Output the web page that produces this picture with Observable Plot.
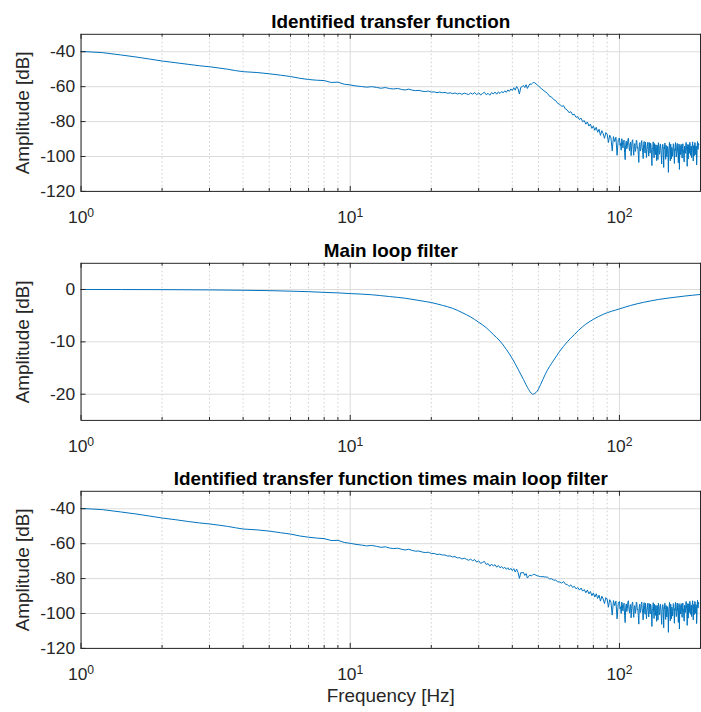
<!DOCTYPE html>
<html><head><meta charset="utf-8">
<script src="https://cdn.jsdelivr.net/npm/d3@7"></script>
<script src="https://cdn.jsdelivr.net/npm/@observablehq/plot@0.6"></script>
<style>
body{margin:0;background:#fff;}
#wrap{width:701px;height:712px;overflow:hidden;background:#fff;}
#wrap svg{display:block;}
</style></head><body><div id="wrap"></div>
<script>
// ---- Frequency grid [Hz] ----
const freqLow = [1,1.2,1.4,1.6,1.8,2,2.25,2.5,2.75,3,3.25,3.5,3.75,4,4.5,5,5.5,6,6.5,7,7.5,8,8.5,9,9.5];
const freqMid = [10,10.5,11,11.5,12,12.5,13,13.5,14,14.5,15,15.5,16,16.5,17,17.5,18,18.5,19,19.5,20,20.5,21,21.5,22,22.5,23,23.5,24,24.5,25,25.5,26,26.5,27,27.5,28,28.5,29,29.5,30,30.5,31,31.5,32,32.5,33,33.5,34,34.5,35,35.5,36,36.5,37,37.5,38,38.5,39,39.5,40,40.5,41,41.5,42,42.5,43,43.5,44,44.5,45,45.5,46,46.5,47,47.5,48,48.5,49,49.5];
const freqHigh = [50,51,52,53,54,55,56,57,58,59,60,61,62,63,64,65,66,67,68,69,70,71,72,73,74,75,76,77,78,79,80,81,82,83,84,85,86,87,88,89,90,91,92,93,94,95,96,97,98,99,100];
const freqTop = [100.5,101,101.5,102,102.5,103,103.5,104,104.5,105,105.5,106,106.5,107,107.5,108,108.5,109,109.5,110,110.5,111,111.5,112,112.5,113,113.5,114,114.5,115,115.5,116,116.5,117,117.5,118,118.5,119,119.5,120,120.5,121,121.5,122,122.5,123,123.5,124,124.5,125,125.5,126,126.5,127,127.5,128,128.5,129,129.5,130,130.5,131,131.5,132,132.5,133,133.5,134,134.5,135,135.5,136,136.5,137,137.5,138,138.5,139,139.5,140,140.5,141,141.5,142,142.5,143,143.5,144,144.5,145,145.5,146,146.5,147,147.5,148,148.5,149,149.5,150,150.5,151,151.5,152,152.5,153,153.5,154,154.5,155,155.5,156,156.5,157,157.5,158,158.5,159,159.5,160,160.5,161,161.5,162,162.5,163,163.5,164,164.5,165,165.5,166,166.5,167,167.5,168,168.5,169,169.5,170,170.5,171,171.5,172,172.5,173,173.5,174,174.5,175,175.5,176,176.5,177,177.5,178,178.5,179,179.5,180,180.5,181,181.5,182,182.5,183,183.5,184,184.5,185,185.5,186,186.5,187,187.5,188,188.5,189,189.5,190,190.5,191,191.5,192,192.5,193,193.5,194,194.5,195,195.5,196,196.5,197];

// ---- Identified transfer function [dB] ----
const tfLow = [-39.8,-40.5,-41.8,-43.0,-44.2,-45.3,-46.3,-47.2,-48.0,-48.6,-49.3,-50.0,-50.8,-51.4,-51.9,-52.6,-53.4,-54.2,-55.2,-55.9,-56.3,-56.5,-57.6,-57.4,-58.6];
const tfMid = [-59.0,-59.6,-59.9,-60.3,-60.0,-60.4,-60.9,-60.5,-61.1,-61.3,-61.0,-61.6,-61.9,-61.4,-62.0,-62.3,-62.1,-62.6,-62.8,-62.5,-63.1,-63.0,-63.4,-63.1,-63.5,-63.3,-63.8,-63.5,-64.0,-63.6,-64.2,-63.8,-64.4,-63.7,-64.1,-64.5,-63.6,-64.3,-63.4,-64.6,-63.5,-64.8,-63.9,-63.2,-64.6,-63.8,-64.9,-63.4,-64.2,-63.1,-64.3,-63.0,-63.9,-62.8,-63.5,-62.4,-63.2,-61.9,-62.7,-61.3,-62.2,-60.6,-62.0,-59.9,-61.2,-64.2,-60.4,-60.0,-59.3,-60.5,-58.9,-61.0,-59.6,-58.4,-58.7,-58.0,-57.6,-57.8,-58.4,-59.0];
const tfHigh = [-59.6,-60.8,-61.9,-62.9,-63.8,-65.5,-66.0,-67.4,-68.0,-69.6,
-70.1,-71.3,-70.9,-72.8,-73.4,-74.9,-74.3,-76.2,-75.8,-77.6,
-77.1,-78.9,-78.0,-80.1,-79.4,-81.5,-80.2,-82.6,-81.4,-83.9,
-82.5,-85.0,-83.3,-86.1,-84.4,-87.9,-85.2,-86.9,-89.6,-86.3,
-87.2,-92.0,-87.8,-89.4,-96.8,-88.6,-91.5,-89.0,-99.3,-90.2,
-89.4];
const tfTop = [-93.6,-92.5,-96.4,-89.8,-91.3,-95.1,-92.0,-90.6,-97.8,-101.8,
-93.0,-91.2,-95.6,-93.9,-90.2,-89.5,-94.4,-96.7,-92.9,-91.8,
-99.5,-94.2,-91.1,-90.4,-96.0,-99.3,-93.7,-92.6,-97.1,-95.8,
-90.7,-91.0,-95.3,-94.7,-98.6,-103.4,-93.2,-92.1,-96.9,-96.0,
-92.3,-90.9,-94.8,-97.5,-101.2,-93.2,-91.4,-95.4,-98.0,-91.7,
-94.6,-100.6,-96.2,-94.3,-91.8,-96.8,-99.7,-92.0,-95.0,-98.1,
-92.4,-93.5,-97.6,-105.2,-95.9,-94.8,-91.6,-97.3,-100.8,-92.6,
-95.7,-99.0,-93.3,-95.1,-102.4,-93.4,-96.3,-101.7,-92.1,-94.0,
-98.8,-97.9,-93.9,-92.8,-96.5,-99.6,-104.3,-96.1,-93.2,-93.0,
-97.4,-106.3,-94.7,-95.5,-92.3,-98.4,-101.6,-93.6,-96.8,-100.2,
-94.2,-96.0,-99.1,-109.1,-95.3,-94.4,-91.9,-98.7,-102.5,-92.9,
-96.1,-101.3,-94.8,-95.8,-99.9,-97.2,-92.7,-93.1,-97.8,-104.0,
-95.6,-96.6,-92.0,-94.0,-100.3,-99.8,-94.1,-92.5,-97.2,-98.0,
-103.6,-95.0,-92.8,-107.4,-96.3,-93.8,-98.9,-97.6,-93.0,-94.3,
-99.2,-100.9,-95.4,-92.7,-96.6,-96.4,-101.8,-103.1,-94.0,-94.6,
-97.9,-98.2,-92.6,-91.9,-96.0,-97.0,-105.6,-95.2,-93.1,-101.5,
-96.7,-93.3,-98.3,-96.8,-91.8,-92.4,-97.5,-99.4,-94.6,-94.1,
-100.7,-97.7,-93.5,-91.6,-95.2,-102.6,-96.4,-93.7,-99.6,-96.2,
-92.0,-92.2,-97.3,-98.9,-94.0,-94.5,-104.8,-100.4,-93.4,-91.4,
-95.7,-95.9,-92.5,-93.0];

// ---- Main loop filter (notch) [dB] ----
const notchFreq = [1,2,3,4,5,6,7,8,9,10,12,14,16,18,20,22,24,26,28,30,32,34,36,38,40,42,44,45,46,47,47.6,48.5,49.5,51,53,55,57,60,64,68,73,80,87,100,110,123,140,154,175,200];
const notchDb = [0,-0.03,-0.08,-0.15,-0.22,-0.32,-0.42,-0.55,-0.65,-0.78,-1.0,-1.35,-1.67,-2.1,-2.5,-3.03,-3.6,-4.4,-5.25,-6.25,-7.3,-8.6,-9.85,-11.45,-13.2,-15.2,-17.2,-18.2,-19.1,-19.8,-20.0,-19.85,-19.4,-18.1,-16.2,-14.7,-13.5,-11.8,-10.0,-8.6,-7.1,-5.7,-4.75,-3.7,-3.05,-2.45,-1.9,-1.6,-1.25,-0.95];

// ---- Transfer function times main loop filter [dB] ----
const prodLow = [-39.8,-40.5,-41.8,-43.0,-44.2,-45.3,-46.3,-47.3,-48.1,-48.7,-49.4,-50.1,-50.9,-51.6,-52.1,-52.8,-53.7,-54.5,-55.6,-56.3,-56.8,-57.1,-58.2,-58.1,-59.3];
const prodMid = [-59.8,-60.4,-60.8,-61.3,-61.0,-61.5,-62.1,-61.8,-62.5,-62.8,-62.6,-63.2,-63.6,-63.2,-63.9,-64.3,-64.2,-64.8,-65.1,-64.9,-65.6,-65.6,-66.2,-66.0,-66.5,-66.5,-67.1,-67.0,-67.6,-67.4,-68.2,-68.0,-68.8,-68.3,-68.9,-69.5,-68.9,-69.8,-69.1,-70.6,-69.8,-71.3,-70.7,-70.2,-71.9,-71.4,-72.9,-71.7,-72.8,-72.0,-73.5,-72.5,-73.8,-73.1,-74.2,-73.5,-74.7,-73.8,-75.1,-74.1,-75.4,-74.3,-76.2,-74.6,-76.4,-79.9,-76.6,-76.7,-76.5,-78.2,-77.1,-79.7,-78.7,-77.9,-78.5,-78.0,-77.6,-77.7,-78.1,-78.4];
const prodHigh = [-78.6,-78.9,-78.9,-79.1,-79.2,-80.2,-80.1,-80.9,-80.9,-81.9,
-81.9,-82.6,-81.7,-83.2,-83.4,-84.5,-83.6,-85.1,-84.4,-85.9,
-85.1,-86.6,-85.4,-87.2,-86.3,-88.1,-86.6,-88.8,-87.4,-89.8,
-88.2,-90.6,-88.7,-91.4,-89.5,-92.9,-90.1,-91.7,-94.3,-90.9,
-91.7,-96.4,-92.1,-93.6,-100.9,-92.6,-95.5,-92.9,-103.1,-94.0,
-93.1];
const prodTop = [-97.3,-96.2,-100.0,-93.4,-94.9,-98.6,-95.5,-94.1,-101.2,-105.2,
-96.4,-94.5,-98.9,-97.2,-93.4,-92.7,-97.6,-99.8,-96.0,-94.9,
-102.5,-97.2,-94.1,-93.4,-98.9,-102.2,-96.6,-95.5,-99.9,-98.6,
-93.5,-93.8,-98.0,-97.4,-101.3,-106.1,-95.8,-94.7,-99.5,-98.6,
-94.8,-93.4,-97.3,-100.0,-103.7,-95.7,-93.8,-97.8,-100.4,-94.1,
-97.0,-103.0,-98.6,-96.6,-94.1,-99.1,-102.0,-94.3,-97.3,-100.3,
-94.6,-95.7,-99.8,-107.4,-98.1,-97.0,-93.8,-99.4,-102.9,-94.7,
-97.8,-101.1,-95.4,-97.2,-104.5,-95.4,-98.3,-103.7,-94.1,-96.0,
-100.8,-99.9,-95.9,-94.7,-98.4,-101.5,-106.2,-98.0,-95.1,-94.9,
-99.3,-108.2,-96.6,-97.3,-94.1,-100.2,-103.4,-95.4,-98.6,-102.0,
-96.0,-97.8,-100.8,-110.8,-97.0,-96.1,-93.6,-100.4,-104.2,-94.6,
-97.8,-103.0,-96.4,-97.4,-101.5,-98.8,-94.3,-94.7,-99.4,-105.6,
-97.2,-98.2,-93.6,-95.6,-101.8,-101.3,-95.6,-94.0,-98.7,-99.5,
-105.1,-96.5,-94.3,-108.9,-97.8,-95.3,-100.3,-98.9,-94.3,-95.6,
-100.5,-102.2,-96.7,-94.0,-97.9,-97.7,-103.1,-104.4,-95.3,-95.9,
-99.2,-99.4,-93.8,-93.1,-97.2,-98.2,-106.8,-96.4,-94.3,-102.7,
-97.9,-94.5,-99.5,-98.0,-93.0,-93.6,-98.7,-100.5,-95.7,-95.2,
-101.8,-98.8,-94.6,-92.7,-96.3,-103.7,-97.5,-94.8,-100.7,-97.3,
-93.1,-93.2,-98.3,-99.9,-95.0,-95.5,-105.8,-101.4,-94.4,-92.4,
-96.7,-96.9,-93.5,-94.0];

// ---- Ticks & labels ----
const xTicks = [1, 10, 100];
const xTickExp = ["0", "1", "2"];
const xMinor = [2,3,4,5,6,7,8,9,20,30,40,50,60,70,80,90,200];
const yTicksTf = [-120,-100,-80,-60,-40];
const yTicksNotch = [-20,-10,0];
const titles = ["Identified transfer function", "Main loop filter", "Identified transfer function times main loop filter"];
const yLabel = "Amplitude [dB]";
const xLabel = "Frequency [Hz]";

const freq = freqLow.concat(freqMid, freqHigh, freqTop);
const tf = tfLow.concat(tfMid, tfHigh, tfTop);
const prod = prodLow.concat(prodMid, prodHigh, prodTop);

const FONT = "'Liberation Sans', Arial, Helvetica, sans-serif";
const LINE = "#0072BD";
const AX = "#262626";
const W = 705, ML = 81, MR = 1, MT = 34;
const supMap = {"0":"\u2070","1":"\u00B9","2":"\u00B2"};

function panel({xs, ys, yDomain, yTicks, title, height, marginBottom, xlabel, curve}) {
  const H = height - MT - marginBottom;
  const PW = W - ML - MR;
  const marks = [
    Plot.ruleX(xMinor, {stroke: "#c4c4c4", strokeWidth: 0.8, strokeDasharray: "1.5,2.5"}),
    Plot.ruleX(xTicks, {stroke: "#dcdcdc", strokeWidth: 1}),
    Plot.ruleY(yTicks, {stroke: "#dcdcdc", strokeWidth: 1}),
    Plot.line(xs, {x: d => d, y: (d, i) => ys[i], stroke: LINE, strokeWidth: 1, curve: curve || "linear"}),
    Plot.ruleX(xTicks, {insetTop: H - 5, stroke: AX}),
    Plot.ruleX(xTicks, {insetBottom: H - 5, stroke: AX}),
    Plot.ruleX(xMinor, {insetTop: H - 3, stroke: AX}),
    Plot.ruleX(xMinor, {insetBottom: H - 3, stroke: AX}),
    Plot.ruleY(yTicks, {insetRight: PW - 5, stroke: AX}),
    Plot.frame({stroke: AX, strokeWidth: 1}),
    Plot.text([title], {text: d => d, frameAnchor: "top", dy: -12, lineAnchor: "middle", textAnchor: "middle", fontWeight: "bold", fontSize: 19, fill: "#000"}),
    Plot.text([yLabel], {text: d => d, frameAnchor: "left", dx: -58, rotate: -90, lineAnchor: "middle", textAnchor: "middle", fontSize: 19, fill: AX})
  ];
  if (xlabel) marks.push(Plot.text([xlabel], {text: d => d, frameAnchor: "bottom", dy: 48, lineAnchor: "middle", textAnchor: "middle", fontSize: 19, fill: AX}));
  const svg = Plot.plot({
    width: W, height, marginLeft: ML, marginRight: MR, marginTop: MT, marginBottom,
    style: {fontFamily: FONT, fontSize: "17.5px", color: AX, background: "#fff", overflow: "visible"},
    x: {type: "log", domain: [1, 200], ticks: xTicks, tickFormat: d => "10" + supMap[xTickExp[xTicks.indexOf(d)]], tickSize: 0, tickPadding: 19, label: null},
    y: {domain: yDomain, ticks: yTicks, tickFormat: d => String(d), tickSize: 0, tickPadding: 6, label: null},
    marks
  });
  svg.querySelectorAll("text").forEach(t => {
    const m = t.textContent.match(/^10([\u2070\u00B9\u00B2])$/);
    if (m && t.children.length === 0) {
      const e = Object.keys(supMap).find(k => supMap[k] === m[1]);
      t.textContent = "10";
      const ts = document.createElementNS("http://www.w3.org/2000/svg", "tspan");
      ts.setAttribute("dy", "-0.5em");
      ts.setAttribute("font-size", "0.7em");
      ts.textContent = e;
      t.appendChild(ts);
    }
  });
  return svg;
}

const wrap = document.getElementById("wrap");
wrap.appendChild(panel({xs: freq, ys: tf, yDomain: [-120, -30], yTicks: yTicksTf, title: titles[0], height: 230, marginBottom: 38}));
wrap.appendChild(panel({xs: notchFreq, ys: notchDb, yDomain: [-25, 5], yTicks: yTicksNotch, title: titles[1], height: 230, marginBottom: 38, curve: "monotone-x"}));
wrap.appendChild(panel({xs: freq, ys: prod, yDomain: [-120, -30], yTicks: yTicksTf, title: titles[2], height: 252, marginBottom: 60, xlabel: xLabel}));
</script>
</body></html>
